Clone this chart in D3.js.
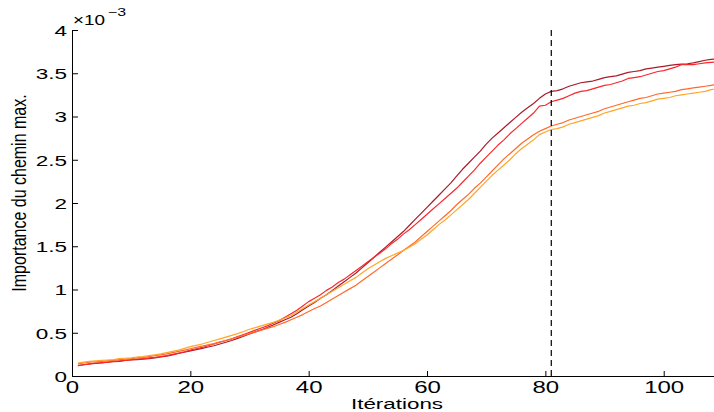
<!DOCTYPE html>
<html><head><meta charset="utf-8">
<script src="https://cdn.jsdelivr.net/npm/d3@7"></script>
<style>
body{margin:0;background:#fff}
svg{display:block}
text{font-family:"Liberation Sans",Arial,Helvetica,sans-serif;fill:#000}
</style>
</head><body>
<svg id="chart" width="714" height="412"></svg>
<script>
// ---- data (values in units of 1e-3) ----
const iterations = d3.range(1, 110);
const seriesDarkRed = [
0.12,0.13,0.14,0.145,0.15,0.16,0.165,0.17,0.18,0.185,
0.19,0.195,0.20,0.21,0.22,0.23,0.245,0.26,0.275,0.29,
0.305,0.32,0.335,0.35,0.37,0.39,0.41,0.435,0.46,0.485,
0.51,0.535,0.56,0.59,0.62,0.65,0.68,0.72,0.765,0.81,
0.85,0.90,0.94,0.99,1.04,1.09,1.14,1.19,1.25,1.31,
1.37,1.43,1.49,1.55,1.61,1.67,1.74,1.81,1.88,1.95,
2.02,2.09,2.16,2.23,2.31,2.39,2.46,2.53,2.60,2.68,
2.75,2.81,2.87,2.93,2.99,3.05,3.10,3.15,3.21,3.26,
3.29,3.30,3.32,3.35,3.37,3.39,3.40,3.41,3.43,3.45,
3.46,3.47,3.49,3.51,3.52,3.53,3.55,3.56,3.57,3.58,
3.59,3.60,3.605,3.61,3.62,3.635,3.65,3.66,3.665];
const seriesRed = [
0.12,0.13,0.14,0.15,0.155,0.16,0.17,0.175,0.18,0.19,
0.195,0.20,0.21,0.215,0.225,0.235,0.25,0.265,0.28,0.30,
0.315,0.33,0.35,0.37,0.39,0.41,0.43,0.455,0.48,0.505,
0.53,0.555,0.58,0.61,0.64,0.68,0.72,0.76,0.81,0.86,
0.90,0.94,0.99,1.03,1.08,1.12,1.17,1.22,1.27,1.32,
1.37,1.42,1.47,1.53,1.58,1.64,1.69,1.75,1.81,1.87,
1.93,1.99,2.05,2.11,2.17,2.24,2.31,2.38,2.46,2.53,
2.60,2.67,2.73,2.80,2.86,2.92,2.98,3.04,3.12,3.13,
3.17,3.19,3.21,3.24,3.27,3.29,3.30,3.32,3.34,3.36,
3.37,3.39,3.41,3.44,3.45,3.46,3.48,3.50,3.52,3.53,
3.55,3.57,3.60,3.60,3.60,3.61,3.62,3.625,3.63];
const seriesOrange = [
0.14,0.15,0.16,0.165,0.17,0.175,0.18,0.19,0.195,0.20,
0.21,0.215,0.225,0.235,0.245,0.255,0.27,0.285,0.30,0.315,
0.33,0.345,0.36,0.375,0.395,0.41,0.43,0.45,0.47,0.49,
0.51,0.53,0.55,0.57,0.595,0.62,0.65,0.68,0.71,0.745,
0.78,0.81,0.85,0.89,0.93,0.97,1.01,1.05,1.10,1.15,
1.20,1.25,1.30,1.35,1.40,1.45,1.50,1.55,1.61,1.67,
1.73,1.79,1.85,1.91,1.98,2.04,2.10,2.17,2.23,2.30,
2.37,2.44,2.51,2.57,2.63,2.69,2.74,2.79,2.83,2.86,
2.89,2.91,2.93,2.96,2.98,3.00,3.02,3.04,3.06,3.09,
3.11,3.13,3.15,3.17,3.19,3.21,3.22,3.24,3.26,3.27,
3.28,3.29,3.31,3.32,3.33,3.34,3.35,3.36,3.37];
const seriesLightOrange = [
0.15,0.16,0.17,0.175,0.18,0.185,0.19,0.20,0.205,0.21,
0.22,0.225,0.235,0.245,0.255,0.27,0.285,0.30,0.32,0.34,
0.355,0.37,0.39,0.41,0.43,0.45,0.47,0.49,0.515,0.54,
0.56,0.58,0.60,0.62,0.645,0.67,0.70,0.74,0.78,0.82,
0.86,0.90,0.94,0.98,1.02,1.06,1.10,1.14,1.19,1.24,
1.28,1.32,1.36,1.39,1.42,1.45,1.49,1.53,1.58,1.63,
1.69,1.75,1.80,1.86,1.92,1.98,2.04,2.11,2.18,2.25,
2.32,2.38,2.44,2.50,2.57,2.63,2.68,2.73,2.79,2.82,
2.85,2.86,2.88,2.91,2.93,2.95,2.97,2.99,3.01,3.04,
3.06,3.08,3.10,3.12,3.13,3.15,3.16,3.18,3.20,3.21,
3.22,3.24,3.25,3.26,3.27,3.28,3.29,3.31,3.32];
const seriesColors = ["#a81c2c", "#f8282c", "#ff6a2c", "#ffa628"];
const xTicks = [0, 20, 40, 60, 80, 100];
const yTicks = [0, 0.5, 1, 1.5, 2, 2.5, 3, 3.5, 4];
const yTickLabels = ["0", "0.5", "1", "1.5", "2", "2.5", "3", "3.5", "4"];
const markerIteration = 81;
const xLabel = "Itérations";
const yLabel = "Importance du chemin max.";

// ---- layout ----
const svg = d3.select("#chart");
const x = d3.scaleLinear().domain([0, 108.5]).range([72, 714]);
const y = d3.scaleLinear().domain([0, 4]).range([376, 30]);

// lines
const allSeries = [seriesDarkRed, seriesRed, seriesOrange, seriesLightOrange];
const line = d3.line().x((d, i) => x(iterations[i])).y(d => y(d));
svg.append("g").selectAll("path").data(allSeries).join("path")
  .attr("d", d => line(d))
  .attr("fill", "none")
  .attr("stroke", (d, i) => seriesColors[i])
  .attr("stroke-width", 1.2)
  .attr("stroke-linejoin", "round");

// dashed marker
svg.append("line")
  .attr("x1", x(markerIteration)).attr("x2", x(markerIteration))
  .attr("y1", y(4)).attr("y2", y(0))
  .attr("stroke", "#000").attr("stroke-width", 1.2)
  .attr("stroke-dasharray", "6,4");

// axes
const xAxis = svg.append("g").attr("transform", "translate(0,376)")
  .call(d3.axisBottom(x).tickValues(xTicks).tickSizeInner(-5).tickSizeOuter(0).tickFormat(d3.format("d")));
xAxis.selectAll("text")
  .attr("y", null).attr("dy", null)
  .attr("transform", "translate(0,17) scale(1.5,1)")
  .style("font-size", "16px");

const yAxis = svg.append("g").attr("transform", "translate(72,0)")
  .call(d3.axisLeft(y).tickValues(yTicks).tickSizeInner(-6).tickSizeOuter(0).tickFormat((d, i) => yTickLabels[i]));
yAxis.selectAll("text")
  .attr("x", null).attr("dy", "0.36em")
  .attr("text-anchor", "end")
  .attr("transform", "translate(-5,0) scale(1.5,1)")
  .style("font-size", "15px");

svg.selectAll(".domain, .tick line").attr("stroke", "#000").attr("stroke-width", 1);
svg.selectAll("g text").attr("fill", "#000").attr("font-family", null);

// axis labels
svg.append("text")
  .attr("transform", "translate(397,409) scale(1.6,1)")
  .attr("text-anchor", "middle")
  .style("font-size", "14px")
  .text(xLabel);

svg.append("text")
  .attr("transform", "translate(26,193) scale(1.3,1) rotate(-90)")
  .attr("text-anchor", "middle")
  .style("font-size", "16px")
  .text(yLabel);

// exponent
svg.append("text").attr("transform", "translate(73,25) scale(1.35,1)").style("font-size", "14px").text("×10");
svg.append("text").attr("transform", "translate(108,16) scale(1.45,1)").style("font-size", "11px").text("−3");
</script>
</body></html>
